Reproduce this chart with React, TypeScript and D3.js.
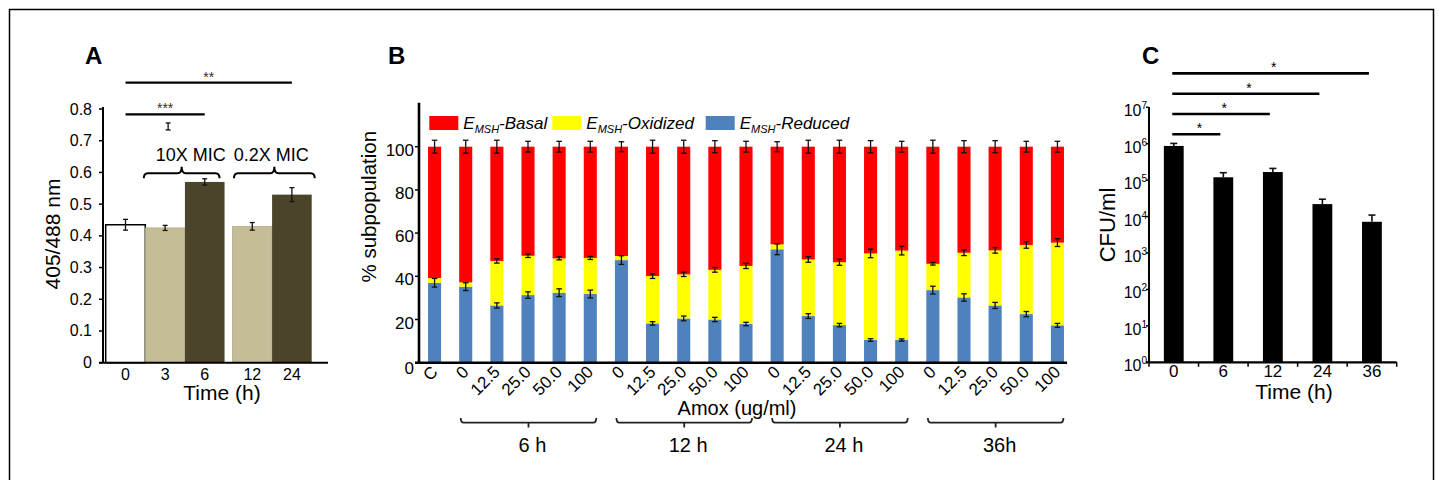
import React from 'react';
import * as d3 from 'd3';

const W = 1439;
const H = 480;
const FONT = '"Liberation Sans", Arial, Helvetica, sans-serif';

// ---- panel A: 405/488 ratio ----
const timesA = ['0', '3', '6', '12', '24'];
const ratioA = [0.435, 0.425, 0.57, 0.43, 0.53];
const ratioErrA = [0.017, 0.008, 0.01, 0.012, 0.022];
const fillA = ['#ffffff', '#c4bd97', '#4a452a', '#c4bd97', '#4a452a'];
const yTicksA = [0, 0.1, 0.2, 0.3, 0.4, 0.5, 0.6, 0.7, 0.8];
const micGroups = [
  {label: '10X MIC', from: 1, to: 2},
  {label: '0.2X MIC', from: 3, to: 4},
];
const sigA = [
  {from: 0, to: 2, mark: '***', level: 0},
  {from: 0, to: 4, mark: '**', level: 1},
];
// stray error bar that sits above the "3" bar in the figure
const strayA = {index: 1, value: 0.745, err: 0.011};

// ---- panel B: subpopulations ----
const labelsB = ['C', '0', '12.5', '25.0', '50.0', '100', '0', '12.5', '25.0', '50.0', '100',
  '0', '12.5', '25.0', '50.0', '100', '0', '12.5', '25.0', '50.0', '100'];
const reducedB = [37.0, 35.2, 26.5, 31.3, 32.4, 31.8, 47.5, 18.2, 20.5, 20.0, 17.9,
  52.5, 21.6, 17.4, 10.5, 10.5, 33.6, 30.2, 26.5, 22.5, 17.3];
const oxidizedB = [2.2, 2.0, 20.6, 18.2, 15.9, 16.7, 1.9, 21.9, 20.4, 23.0, 26.9,
  2.3, 26.2, 29.1, 40.1, 41.4, 12.2, 20.7, 25.5, 32.0, 38.3];
const reducedErrB = [2.0, 1.8, 1.2, 1.5, 1.8, 1.8, 2.0, 0.8, 1.1, 1.0, 0.8,
  2.5, 1.1, 0.8, 0.6, 0.5, 1.8, 1.7, 1.4, 1.2, 0.9];
const oxidizedErrB = [0, 0, 1.0, 0.8, 0.7, 0.7, 0, 1.1, 1.0, 1.1, 1.2,
  0, 1.3, 1.4, 2.0, 2.0, 0.6, 1.3, 1.3, 1.5, 1.8];
const basalErrB = [3.0, 3.0, 3.0, 2.5, 2.5, 2.5, 2.3, 3.0, 3.0, 2.8, 2.5,
  2.3, 3.0, 3.0, 2.8, 2.5, 3.0, 2.8, 2.8, 2.5, 2.5];
const yTicksB = [0, 20, 40, 60, 80, 100];
const timeGroupsB = [
  {label: '6 h', first: 1, last: 5},
  {label: '12 h', first: 6, last: 10},
  {label: '24 h', first: 11, last: 15},
  {label: '36h', first: 16, last: 20},
];
const seriesB = [
  {key: 'basal', name: '-Basal', color: '#ff0000'},
  {key: 'oxidized', name: '-Oxidized', color: '#ffff00'},
  {key: 'reduced', name: '-Reduced', color: '#4f81bd'},
];

// ---- panel C: CFU ----
const timesC = ['0', '6', '12', '24', '36'];
const cfuC = [8.7e5, 1.2e5, 1.67e5, 2.2e4, 7.2e3];
const cfuErrC = [1.5e5, 4.0e4, 4.3e4, 8.0e3, 3.8e3];
const yTicksC = [0, 1, 2, 3, 4, 5, 6, 7];
const sigC = [
  {from: '0', to: '6', mark: '*'},
  {from: '0', to: '12', mark: '*'},
  {from: '0', to: '24', mark: '*'},
  {from: '0', to: '36', mark: '*'},
];

function ErrBar({x, y1, y2, cap, sw = 1.3, color = '#111', top = true, bottom = true}: any) {
  return (
    <g stroke={color} strokeWidth={sw}>
      <line x1={x} x2={x} y1={y1} y2={y2}/>
      {top && <line x1={x - cap} x2={x + cap} y1={y1} y2={y1}/>}
      {bottom && <line x1={x - cap} x2={x + cap} y1={y2} y2={y2}/>}
    </g>
  );
}

function brace(x1: number, x2: number, y: number, cx: number, up: number, ends: number) {
  // curly bracket: ends bend by `ends`, middle tick goes by `up`
  const r = 4;
  return `M${x1},${y + ends} Q${x1},${y} ${x1 + r},${y} L${cx - r},${y} Q${cx},${y} ${cx},${y + up}` +
    ` Q${cx},${y} ${cx + r},${y} L${x2 - r},${y} Q${x2},${y} ${x2},${y + ends}`;
}

function PanelA() {
  const y = d3.scaleLinear().domain([0, 0.8]).range([362.7, 109]);
  // slot positions: the two groups are separated by a small gap
  const slot = (i: number) => i + (i >= 3 ? 0.2 : 0);
  const x = d3.scaleLinear().domain([0, 5.2]).range([105.7, 311.7]);
  const bw = x(1) - x(0);
  const cx = (i: number) => x(slot(i)) + bw / 2;
  return (
    <g fontFamily={FONT}>
      <text x={85} y={64} fontSize={24} fontWeight="bold">A</text>
      {sigA.map((s, i) => {
        const ly = s.level === 0 ? 114.3 : 82.7;
        return (
          <g key={i}>
            <line x1={cx(s.from)} x2={cx(s.to)} y1={ly} y2={ly} stroke="#000" strokeWidth={2.2}/>
            <text x={(cx(s.from) + cx(s.to)) / 2} y={ly - 1} fontSize={14} textAnchor="middle"
                  fill="#3b2a1a">{s.mark}</text>
          </g>
        );
      })}
      <ErrBar x={cx(strayA.index) + 3} y1={y(strayA.value + strayA.err)} y2={y(strayA.value - strayA.err)}
              cap={2.5} sw={1.3}/>
      {ratioA.map((v, i) => (
        <rect key={i} x={x(slot(i))} y={y(v)} width={bw} height={y(0) - y(v)} fill={fillA[i]}
              stroke={i === 0 ? '#000' : fillA[i] === '#c4bd97' ? '#b0aa88' : 'none'}
              strokeWidth={i === 0 ? 1.5 : 0.8}/>
      ))}
      {ratioA.map((v, i) => (
        <ErrBar key={i} x={cx(i)} y1={y(v + ratioErrA[i])} y2={y(v - ratioErrA[i])} cap={2.5}/>
      ))}
      {micGroups.map((g, i) => {
        const x1 = x(slot(g.from)) - (i === 0 ? 1.5 : -1.5);
        const x2 = x(slot(g.to)) + bw - (i === 0 ? 5 : -3);
        const mid = (x1 + x2) / 2;
        return (
          <g key={i}>
            <path d={brace(x1, x2, 173.3, mid, -6.5, 5)} fill="none" stroke="#000" strokeWidth={2}/>
            <text x={mid + (i === 0 ? 9 : -3)} y={160.7} fontSize={18} textAnchor="middle">{g.label}</text>
          </g>
        );
      })}
      <line x1={103} x2={103} y1={107} y2={y(0)} stroke="#000" strokeWidth={2}/>
      {yTicksA.map(t => (
        <g key={t}>
          <line x1={99} x2={103} y1={y(t)} y2={y(t)} stroke="#000" strokeWidth={1.5}/>
          <text x={92} y={y(t) + 5.5} fontSize={16} textAnchor="end">{t === 0 ? '0' : t.toFixed(1)}</text>
        </g>
      ))}
      <line x1={99} x2={328} y1={y(0)} y2={y(0)} stroke="#000" strokeWidth={2}/>
      {timesA.map((t, i) => (
        <text key={t} x={cx(i)} y={380} fontSize={16} textAnchor="middle">{t}</text>
      ))}
      <text x={222} y={400} fontSize={21} textAnchor="middle">Time (h)</text>
      <text transform="translate(60,234) rotate(-90)" fontSize={21} textAnchor="middle">405/488 nm</text>
    </g>
  );
}

function PanelB() {
  const idx = labelsB.map((_, i) => String(i));
  const x = d3.scaleBand<string>().domain(idx).range([419, 1073]).paddingInner(0.58).paddingOuter(0.29);
  const y = d3.scaleLinear().domain([0, 100]).range([362.7, 146.7]);
  const rows = labelsB.map((l, i) => ({
    id: String(i),
    reduced: reducedB[i],
    oxidized: oxidizedB[i],
    basal: 100 - reducedB[i] - oxidizedB[i],
  }));
  const stack = d3.stack<any>().keys(['reduced', 'oxidized', 'basal'])(rows);
  const colorOf: Record<string, string> = {};
  seriesB.forEach(s => { colorOf[s.key] = s.color; });
  const bw = x.bandwidth();
  const cx = (i: number) => (x(String(i)) as number) + bw / 2;
  const legendX = [429.3, 552.3, 705.7];
  return (
    <g fontFamily={FONT}>
      <text x={388} y={64} fontSize={24} fontWeight="bold">B</text>
      {stack.map(layer => (
        <g key={layer.key} fill={colorOf[layer.key]}>
          {layer.map((d, i) => (
            <rect key={i} x={x(String(i))} y={y(d[1])} width={bw} height={y(d[0]) - y(d[1])}/>
          ))}
        </g>
      ))}
      {rows.map((r, i) => {
        const top1 = r.reduced;
        const top2 = r.reduced + r.oxidized;
        return (
          <g key={i}>
            <ErrBar x={cx(i)} y1={y(top1 + reducedErrB[i])} y2={y(top1 - reducedErrB[i])} cap={2.8}/>
            {oxidizedErrB[i] > 0 &&
              <ErrBar x={cx(i)} y1={y(top2 + oxidizedErrB[i])} y2={y(top2 - oxidizedErrB[i])} cap={2.8}/>}
            <ErrBar x={cx(i)} y1={y(100 + basalErrB[i])} y2={y(100 - basalErrB[i])} cap={2.8}/>
          </g>
        );
      })}
      {seriesB.map((s, i) => (
        <g key={s.key}>
          <rect x={legendX[i]} y={116} width={29} height={14} fill={s.color}/>
          <text x={legendX[i] + 34} y={129} fontSize={17} fontStyle="italic">
            <tspan>E</tspan>
            <tspan fontSize={11} dy={4}>MSH</tspan>
            <tspan dy={-4}>{s.name}</tspan>
          </text>
        </g>
      ))}
      <line x1={419} x2={419} y1={102.7} y2={y(0)} stroke="#000" strokeWidth={2.6}/>
      {yTicksB.map(t => (
        <g key={t}>
          <line x1={415} x2={419} y1={y(t)} y2={y(t)} stroke="#000" strokeWidth={1.5}/>
          <text x={414} y={y(t) + (t === 0 ? 11 : 9)} fontSize={17} textAnchor="end">{t}</text>
        </g>
      ))}
      <line x1={415} x2={1067} y1={y(0)} y2={y(0)} stroke="#000" strokeWidth={2.6}/>
      {labelsB.map((l, i) => (
        <text key={i} transform={`translate(${cx(i) + 4},373) rotate(-45)`} fontSize={17}
              textAnchor="end">{l}</text>
      ))}
      <text x={737} y={415} fontSize={20} textAnchor="middle">Amox (ug/ml)</text>
      {timeGroupsB.map(g => {
        const x1 = cx(g.first) - 5;
        const x2 = cx(g.last) + 6;
        const mid = (x1 + x2) / 2;
        return (
          <g key={g.label}>
            <path d={`M${x1},418 Q${x1},422.7 ${x1 + 3},422.7 L${x2 - 3},422.7 Q${x2},422.7 ${x2},418`}
                  fill="none" stroke="#222" strokeWidth={1.8}/>
            <line x1={mid} x2={mid} y1={422.7} y2={427.5} stroke="#222" strokeWidth={1.8}/>
            <text x={mid + 4} y={451.7} fontSize={20} textAnchor="middle">{g.label}</text>
          </g>
        );
      })}
      <text transform="translate(376,206.7) rotate(-90)" fontSize={20.5} textAnchor="middle">% subpopulation</text>
    </g>
  );
}

function PanelC() {
  const x = d3.scaleBand<string>().domain(timesC).range([1149, 1396.7]).paddingInner(0.6).paddingOuter(0.3);
  const y = d3.scaleLog().domain([1, 1e7]).range([362.3, 107.3]);
  const bw = x.bandwidth();
  const cx = (t: string) => (x(t) as number) + bw / 2;
  const step = x.step();
  return (
    <g fontFamily={FONT}>
      <text x={1142} y={64} fontSize={24} fontWeight="bold">C</text>
      {sigC.map((s, i) => {
        const ly = 134.3 - i * 20.3;
        const mid = (cx(s.from) + cx(s.to)) / 2;
        return (
          <g key={i}>
            <line x1={cx(s.from) - 1.5} x2={cx(s.to) - 3} y1={ly} y2={ly} stroke="#000" strokeWidth={2.6}/>
            <text x={mid + 1} y={ly - 1} fontSize={14} textAnchor="middle">{s.mark}</text>
          </g>
        );
      })}
      {cfuC.map((v, i) => (
        <g key={i}>
          <ErrBar x={cx(timesC[i])} y1={y(v + cfuErrC[i])} y2={y(v)} cap={3.5} sw={1.6} bottom={false}/>
          <rect x={x(timesC[i])} y={y(v)} width={bw} height={y(1) - y(v)} fill="#000"/>
        </g>
      ))}
      <line x1={1149} x2={1149} y1={107} y2={y(1)} stroke="#000" strokeWidth={2}/>
      {yTicksC.map(p => (
        <g key={p}>
          <line x1={1146} x2={1149} y1={y(10 ** p)} y2={y(10 ** p)} stroke="#000" strokeWidth={1.5}/>
          <text x={1147} y={y(10 ** p) + 9} fontSize={16} textAnchor="end">
            <tspan>10</tspan>
            <tspan fontSize={10} dy={-7}>{p}</tspan>
          </text>
        </g>
      ))}
      <line x1={1146} x2={1396.7} y1={y(1)} y2={y(1)} stroke="#000" strokeWidth={2.2}/>
      {d3.range(timesC.length + 1).map(k => (
        <line key={k} x1={1149 + k * step} x2={1149 + k * step} y1={y(1)} y2={y(1) + 4.5}
              stroke="#000" strokeWidth={1.5}/>
      ))}
      {timesC.map(t => (
        <text key={t} x={cx(t)} y={377} fontSize={17} textAnchor="middle">{t}</text>
      ))}
      <text x={1294} y={399} fontSize={21} textAnchor="middle">Time (h)</text>
      <text transform="translate(1115,225) rotate(-90)" fontSize={22} textAnchor="middle">CFU/ml</text>
    </g>
  );
}

export default function App() {
  return (
    <svg width={W} height={H} style={{position: 'absolute', left: 0, top: 0, background: '#fff'}}>
      <rect x={0} y={0} width={W} height={H} fill="#fff"/>
      <rect x={9.5} y={9.5} width={1424} height={H + 10} fill="none" stroke="#000" strokeWidth={1.5}/>
      <PanelA/>
      <PanelB/>
      <PanelC/>
    </svg>
  );
}
